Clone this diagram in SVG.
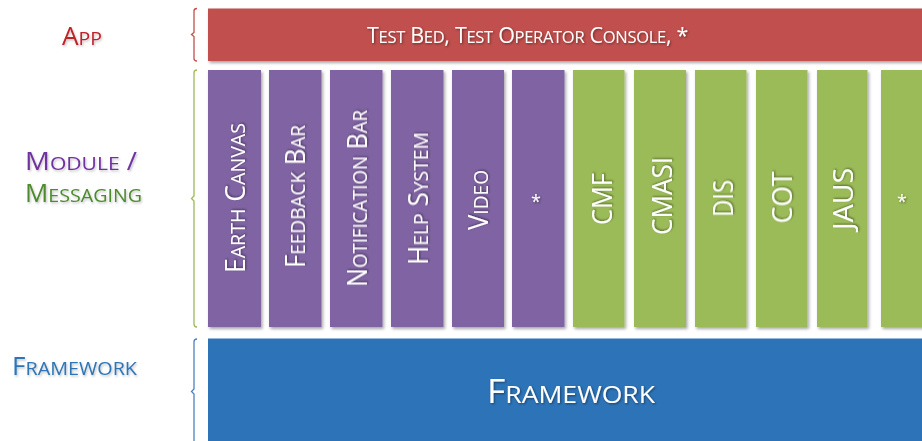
<svg xmlns="http://www.w3.org/2000/svg" width="922" height="441" viewBox="0 0 922 441">
<defs>
<filter id="sh" x="-10%" y="-10%" width="130%" height="130%">
<feDropShadow dx="1.5" dy="2" stdDeviation="1.5" flood-color="#000" flood-opacity="0.35"/>
</filter>
<filter id="tsh" x="-10%" y="-30%" width="120%" height="160%">
<feDropShadow dx="1" dy="1" stdDeviation="0.8" flood-color="#000" flood-opacity="0.45"/>
</filter>
<filter id="lsh" x="-10%" y="-30%" width="120%" height="160%">
<feDropShadow dx="1" dy="1.5" stdDeviation="1" flood-color="#000" flood-opacity="0.25"/>
</filter>
<linearGradient id="slash" x1="0" y1="0" x2="1" y2="0">
<stop offset="0" stop-color="#4F81BD"/><stop offset="1" stop-color="#7030A0"/>
</linearGradient>
</defs>
<style>
text{font-family:"Open Sans","Liberation Sans",sans-serif;}
.w{fill:#fff;filter:url(#tsh);}
.col{font-size:27px;text-anchor:middle;}
.col .s{font-size:20px;}
.pur{fill:#8064A2;filter:url(#sh);}
.grn{fill:#9BBB59;filter:url(#sh);}
.br{fill:none;stroke-width:1.3;}
.lab{text-anchor:middle;filter:url(#lsh);}
.star{font-size:18px;text-anchor:middle;}
.apps{font-size:16.5px;}
</style>

<g id="brackets">
<path class="br" stroke="#C0504D" d="M197,8.5 Q194,8.5 194,11 V32.5 L191.5,34.5 L194,36.5 V58.5 Q194,61 197,61"/>
<path class="br" stroke="#9BBB59" d="M197,70 Q194,70 194,73 V196 L191.5,198.5 L194,201 V324 Q194,327 197,327"/>
<path class="br" stroke="#4F81BD" d="M197,339 Q194,339 194,342 V389 L191.5,391.5 L194,394 V441"/>
</g>

<g id="labels">
<text class="lab" x="82" y="45" fill="#C0202A" font-size="25" textLength="40" lengthAdjust="spacingAndGlyphs">A<tspan font-size="18.5">PP</tspan></text>
<text class="lab" x="81" y="170" fill="#7030A0" font-size="25" textLength="112" lengthAdjust="spacingAndGlyphs">M<tspan font-size="19">ODULE</tspan> <tspan fill="url(#slash)">/</tspan></text>
<text class="lab" x="83.5" y="202" fill="#4E8A2E" font-size="25" textLength="117" lengthAdjust="spacingAndGlyphs">M<tspan font-size="19">ESSAGING</tspan></text>
<text class="lab" x="74.5" y="375" fill="#2E75B6" font-size="25" textLength="125" lengthAdjust="spacingAndGlyphs">F<tspan font-size="19">RAMEWORK</tspan></text>
</g>

<g id="app">
<rect x="208" y="8.5" width="720" height="52.5" fill="#C0504D" filter="url(#sh)"/>
<text class="w" x="527.5" y="43" font-size="21.5" text-anchor="middle" letter-spacing="-0.3">T<tspan class="apps">EST</tspan> B<tspan class="apps">ED</tspan>, T<tspan class="apps">EST</tspan> O<tspan class="apps">PERATOR</tspan> C<tspan class="apps">ONSOLE</tspan>, *</text>
</g>

<g id="earth-canvas">
<rect class="pur" x="208" y="70" width="53" height="257"/>
<text class="w col" transform="translate(245,198) rotate(-90)" textLength="150" lengthAdjust="spacingAndGlyphs">E<tspan class="s">ARTH</tspan> C<tspan class="s">ANVAS</tspan></text>
</g>
<g id="feedback-bar">
<rect class="pur" x="269" y="70" width="52.5" height="257"/>
<text class="w col" transform="translate(305,196.5) rotate(-90)" textLength="143" lengthAdjust="spacingAndGlyphs">F<tspan class="s">EEDBACK</tspan> B<tspan class="s">AR</tspan></text>
</g>
<g id="notification-bar">
<rect class="pur" x="330" y="70" width="52.5" height="257"/>
<text class="w col" transform="translate(367,198.5) rotate(-90)" textLength="177" lengthAdjust="spacingAndGlyphs">N<tspan class="s">OTIFICATION</tspan> B<tspan class="s">AR</tspan></text>
</g>
<g id="help-system">
<rect class="pur" x="391" y="70" width="52.5" height="257"/>
<text class="w col" transform="translate(428,198.5) rotate(-90)" textLength="133" lengthAdjust="spacingAndGlyphs">H<tspan class="s">ELP</tspan> S<tspan class="s">YSTEM</tspan></text>
</g>
<g id="video">
<rect class="pur" x="452" y="70" width="52" height="257"/>
<text class="w col" transform="translate(488,200) rotate(-90)" textLength="60" lengthAdjust="spacingAndGlyphs">V<tspan class="s">IDEO</tspan></text>
</g>
<g id="module-more">
<rect class="pur" x="512" y="70" width="52.5" height="257"/>
<text class="w star" x="536" y="208">*</text>
</g>

<g id="cmf">
<rect class="grn" x="573" y="70" width="51.5" height="257"/>
<text class="w col" transform="translate(612,199) rotate(-90)" textLength="52" lengthAdjust="spacingAndGlyphs">CMF</text>
</g>
<g id="cmasi">
<rect class="grn" x="634" y="70" width="52" height="257"/>
<text class="w col" transform="translate(672,196) rotate(-90)" textLength="78" lengthAdjust="spacingAndGlyphs">CMASI</text>
</g>
<g id="dis">
<rect class="grn" x="695" y="70" width="51.5" height="257"/>
<text class="w col" transform="translate(733,198.5) rotate(-90)" textLength="37" lengthAdjust="spacingAndGlyphs">DIS</text>
</g>
<g id="cot">
<rect class="grn" x="756" y="70" width="51.5" height="257"/>
<text class="w col" transform="translate(792,197.5) rotate(-90)" textLength="52" lengthAdjust="spacingAndGlyphs">COT</text>
</g>
<g id="jaus">
<rect class="grn" x="817" y="70" width="50.5" height="257"/>
<text class="w col" transform="translate(853,199) rotate(-90)" textLength="62" lengthAdjust="spacingAndGlyphs">JAUS</text>
</g>
<g id="messaging-more">
<rect class="grn" x="881" y="70" width="52" height="257"/>
<text class="w star" x="902" y="208">*</text>
</g>

<g id="framework">
<rect x="208" y="338.5" width="720" height="110" fill="#2D73B8"/>
<text class="w" x="571" y="403" font-size="32" text-anchor="middle" textLength="168" lengthAdjust="spacingAndGlyphs">F<tspan font-size="24">RAMEWORK</tspan></text>
</g>
</svg>
